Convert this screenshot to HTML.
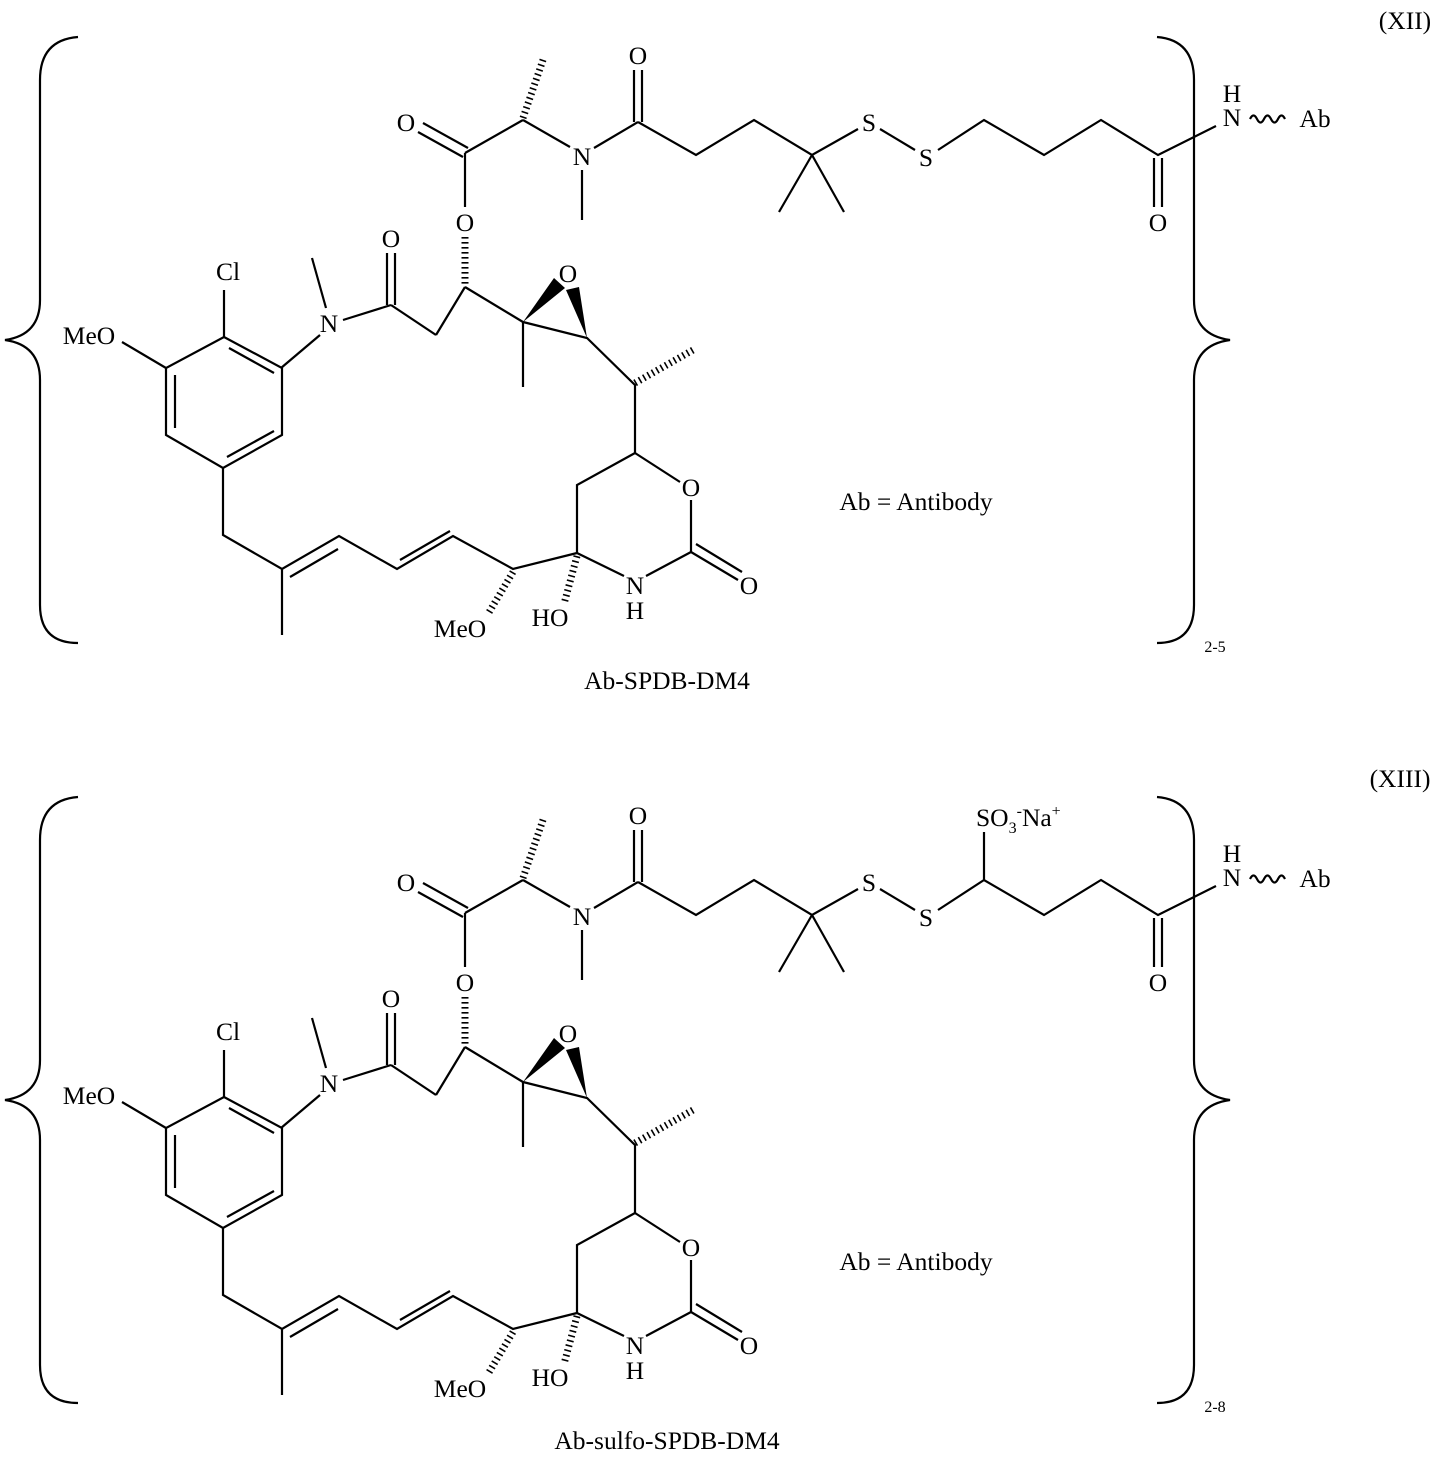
<!DOCTYPE html>
<html><head><meta charset="utf-8"><style>
html,body{margin:0;padding:0;background:#fff;}
svg{display:block;}
text{font-family:"Liberation Serif",serif;font-size:25.5px;fill:#000;}
</style></head><body>
<svg width="1435" height="1458" viewBox="0 0 1435 1458" xmlns="http://www.w3.org/2000/svg">
<defs>
<g id="mol" stroke="#000" stroke-width="2.2" fill="none" stroke-linecap="butt">
<path d="M78,37 Q40,40 40,80 L40,300 Q40,335 5,340 Q40,345 40,380 L40,605 Q40,643 78,643"/>
<path d="M1157,37 Q1194,40 1194,80 L1194,300 Q1194,335 1230,340 Q1194,345 1194,380 L1194,605 Q1194,643 1157,643"/>
<line x1="418" y1="132" x2="463" y2="157"/>
<line x1="423" y1="123" x2="468" y2="148"/>
<line x1="465" y1="153" x2="523" y2="120"/>
<line x1="523" y1="118" x2="544" y2="57" stroke-width="7" stroke-dasharray="1.6,3.4"/>
<line x1="523" y1="120" x2="570" y2="147"/>
<line x1="582" y1="170" x2="582" y2="220"/>
<line x1="594" y1="148" x2="638" y2="122"/>
<line x1="634" y1="122" x2="634" y2="70"/>
<line x1="642" y1="122" x2="642" y2="70"/>
<polyline points="638,122 696,155 754,120 812,155 858,129"/>
<line x1="812" y1="155" x2="779" y2="212"/>
<line x1="812" y1="155" x2="844" y2="212"/>
<line x1="880" y1="129" x2="915" y2="150"/>
<polyline points="938,150 984,120 1044,155 1101,120 1158,155 1216,126"/>
<line x1="1154" y1="158" x2="1154" y2="207"/>
<line x1="1162" y1="158" x2="1162" y2="207"/>
<path d="M1250,119 q3.5,-7 7,0 t7,0 t7,0 t7,0 t7,0"/>
<line x1="465" y1="153" x2="465" y2="207"/>
<line x1="465" y1="237" x2="465" y2="285" stroke-width="7" stroke-dasharray="1.6,3.4"/>
<line x1="465" y1="287" x2="436" y2="335"/>
<line x1="465" y1="287" x2="523" y2="322"/>
<line x1="436" y1="335" x2="391" y2="305"/>
<line x1="387" y1="305" x2="387" y2="253"/>
<line x1="395" y1="305" x2="395" y2="253"/>
<line x1="391" y1="305" x2="343" y2="320"/>
<line x1="326" y1="308" x2="312" y2="258"/>
<line x1="320" y1="335" x2="281" y2="368"/>
<polygon points="224,337 282,368 282,435 223,468 166,435 166,368"/>
<line x1="229" y1="348" x2="274" y2="373"/>
<line x1="175" y1="375" x2="175" y2="428"/>
<line x1="227" y1="457" x2="274" y2="431"/>
<line x1="224" y1="337" x2="224" y2="290"/>
<line x1="122" y1="342" x2="166" y2="368"/>
<polyline points="223,468 223,535 282,569 339,536 397,569 453,536 513,569 577,553"/>
<line x1="282" y1="569" x2="282" y2="635"/>
<line x1="290" y1="577" x2="338" y2="549"/>
<line x1="400" y1="560" x2="450" y2="531"/>
<line x1="513" y1="572" x2="488" y2="614" stroke-width="7" stroke-dasharray="1.6,3.4"/>
<line x1="577" y1="556" x2="564" y2="604" stroke-width="7" stroke-dasharray="1.6,3.4"/>
<line x1="577" y1="553" x2="624" y2="576"/>
<line x1="646" y1="576" x2="691" y2="552"/>
<line x1="691" y1="552" x2="691" y2="500"/>
<line x1="635" y1="453" x2="680" y2="482"/>
<line x1="691" y1="552" x2="738" y2="580"/>
<line x1="696" y1="544" x2="742" y2="572"/>
<polyline points="577,553 577,485 635,453 635,385 587,338 523,322"/>
<line x1="635" y1="383" x2="693" y2="350" stroke-width="7" stroke-dasharray="1.6,3.4"/>
<line x1="523" y1="322" x2="523" y2="387"/>
<polygon points="523,322 554,278 565,288" fill="#000" stroke="none"/>
<polygon points="587,338 566,290 579,287" fill="#000" stroke="none"/>
</g>
</defs>
<use href="#mol"/>
<use href="#mol" transform="translate(0,760)"/>
<line x1="984" y1="880" x2="984" y2="832" stroke="#000" stroke-width="2.2"/>

<g text-anchor="middle">
<text x="1405" y="29">(XII)</text>
<text x="406" y="131">O</text>
<text x="582" y="165">N</text>
<text x="638" y="64">O</text>
<text x="869" y="131">S</text>
<text x="926" y="166">S</text>
<text x="1158" y="231">O</text>
<text x="1232" y="102">H</text>
<text x="1232" y="126">N</text>
<text x="1315" y="127">Ab</text>
<text x="465" y="231">O</text>
<text x="391" y="247">O</text>
<text x="329" y="332">N</text>
<text x="228" y="280">Cl</text>
<text x="89" y="344">MeO</text>
<text x="568" y="282">O</text>
<text x="691" y="496">O</text>
<text x="635" y="594">N</text>
<text x="635" y="619">H</text>
<text x="749" y="594">O</text>
<text x="550" y="626">HO</text>
<text x="460" y="637">MeO</text>
<text x="916" y="510">Ab = Antibody</text>
<text x="667" y="689">Ab-SPDB-DM4</text>
<text x="1215" y="652" style="font-size:16px">2-5</text>
<text x="1400" y="787">(XIII)</text>
<text x="406" y="891">O</text>
<text x="582" y="925">N</text>
<text x="638" y="824">O</text>
<text x="869" y="891">S</text>
<text x="926" y="926">S</text>
<text x="1158" y="991">O</text>
<text x="1232" y="862">H</text>
<text x="1232" y="886">N</text>
<text x="1315" y="887">Ab</text>
<text x="465" y="991">O</text>
<text x="391" y="1007">O</text>
<text x="329" y="1092">N</text>
<text x="228" y="1040">Cl</text>
<text x="89" y="1104">MeO</text>
<text x="568" y="1042">O</text>
<text x="691" y="1256">O</text>
<text x="635" y="1354">N</text>
<text x="635" y="1379">H</text>
<text x="749" y="1354">O</text>
<text x="550" y="1386">HO</text>
<text x="460" y="1397">MeO</text>
<text x="916" y="1270">Ab = Antibody</text>
<text x="667" y="1449">Ab-sulfo-SPDB-DM4</text>
<text x="1215" y="1412" style="font-size:16px">2-8</text>
</g>
<text x="976" y="826">SO<tspan style="font-size:16px" dy="7">3</tspan><tspan style="font-size:16px" dy="-17">-</tspan><tspan dy="10">Na</tspan><tspan style="font-size:16px" dy="-10">+</tspan></text>
</svg>
</body></html>
